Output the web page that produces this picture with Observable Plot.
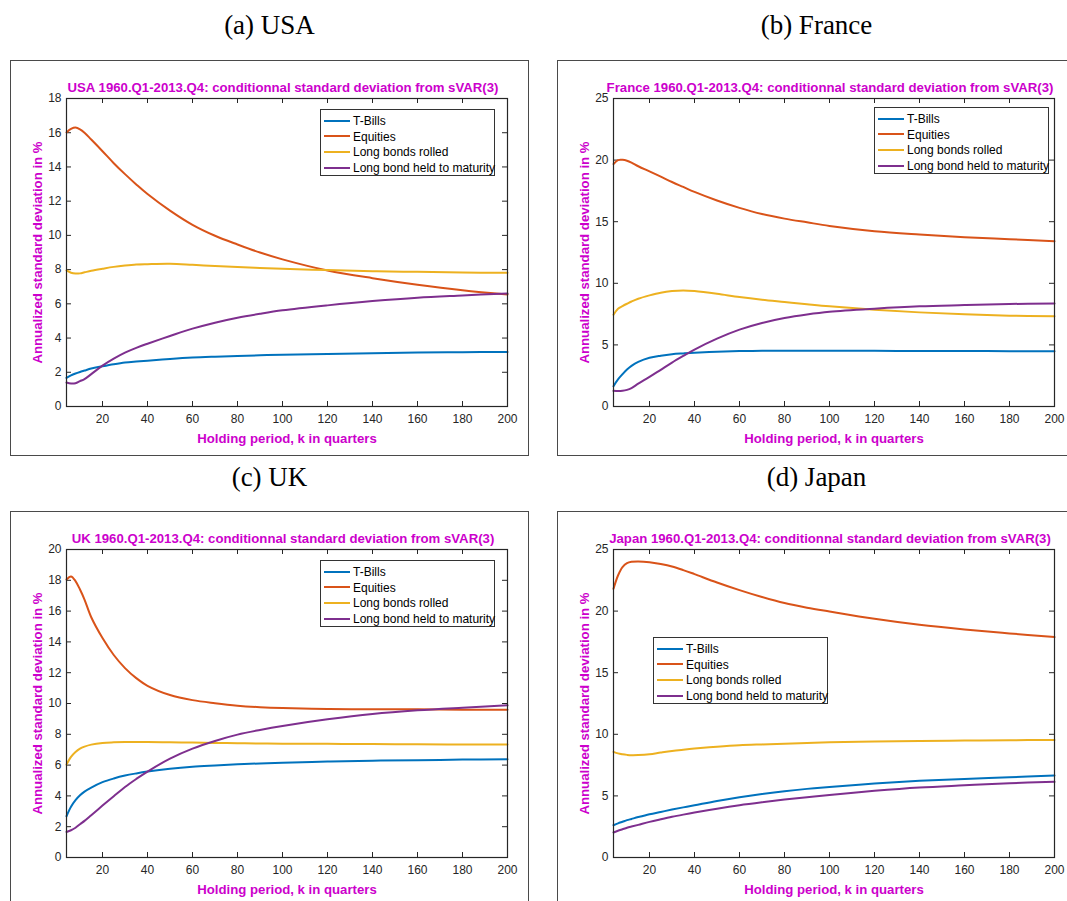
<!DOCTYPE html>
<html>
<head>
<meta charset="utf-8">
<script src="https://cdn.jsdelivr.net/npm/d3@7"></script>
<script src="https://cdn.jsdelivr.net/npm/@observablehq/plot@0.6"></script>
<style>
  html, body { margin: 0; padding: 0; background: #fff; }
  #fig { position: relative; width: 1067px; height: 901px; overflow: hidden; background: #fff; }
  .cap { position: absolute; width: 519px; text-align: center; font-family: "Liberation Serif", serif; font-size: 27px; line-height: 30px; color: #000; }
  .panel { position: absolute; width: 519px; height: 396px; }
  .panel svg { position: absolute; left: 0; top: 0; }
  .border { position: absolute; left: 0; top: 0; width: 519px; height: 396px; box-sizing: border-box; border: 1.5px solid #4a4a4a; pointer-events: none; }
  .legend { position: absolute; width: 175px; height: 67px; box-sizing: border-box; border: 1px solid #333; background: #fff; font-family: "Liberation Sans", Arial, sans-serif; font-size: 12px; color: #000; }
  .row { position: absolute; left: 3px; height: 16px; line-height: 16px; white-space: nowrap; }
  .sw { display: inline-block; width: 26px; height: 2px; vertical-align: middle; margin-right: 3px; position: relative; top: -1px; }
</style>
</head>
<body>
<div id="fig"></div>
<script>
// ---------- data ----------
const seriesNames = ["T-Bills", "Equities", "Long bonds rolled", "Long bond held to maturity"];
const seriesColors = ["#0072BD", "#D95319", "#EDB120", "#7E2F8E"];

// holding periods (quarters) at which values were read
const K = [4, 6, 8, 10, 12, 15, 20, 25, 30, 35, 40, 50, 60, 70, 80, 90, 100, 120, 140, 160, 180, 200];
const xTicks = [20, 40, 60, 80, 100, 120, 140, 160, 180, 200];

// USA
const usaTBills   = [1.67, 1.82, 1.93, 2.02, 2.10, 2.22, 2.35, 2.47, 2.57, 2.63, 2.68, 2.78, 2.86, 2.91, 2.95, 2.99, 3.03, 3.07, 3.11, 3.15, 3.17, 3.19];
const usaEquities = [16.02, 16.22, 16.30, 16.20, 16.00, 15.60, 14.92, 14.22, 13.58, 12.98, 12.42, 11.45, 10.62, 9.98, 9.47, 9.00, 8.60, 7.95, 7.50, 7.12, 6.80, 6.55];
const usaRolled   = [7.95, 7.82, 7.77, 7.78, 7.84, 7.93, 8.05, 8.16, 8.24, 8.30, 8.32, 8.34, 8.28, 8.21, 8.15, 8.10, 8.05, 7.97, 7.91, 7.87, 7.83, 7.81];
const usaHeld     = [1.40, 1.34, 1.36, 1.48, 1.60, 1.89, 2.39, 2.80, 3.15, 3.43, 3.67, 4.12, 4.55, 4.90, 5.19, 5.42, 5.62, 5.91, 6.16, 6.36, 6.49, 6.61];
const usaYTicks   = [0, 2, 4, 6, 8, 10, 12, 14, 16, 18];

// France
const fraTBills   = [1.65, 2.20, 2.62, 3.00, 3.30, 3.62, 3.95, 4.12, 4.24, 4.31, 4.37, 4.45, 4.50, 4.52, 4.53, 4.53, 4.53, 4.52, 4.51, 4.50, 4.49, 4.48];
const fraEquities = [19.68, 20.00, 20.02, 19.95, 19.80, 19.50, 19.08, 18.66, 18.22, 17.82, 17.42, 16.72, 16.12, 15.62, 15.25, 14.95, 14.66, 14.23, 13.96, 13.74, 13.58, 13.42];
const fraRolled   = [7.45, 7.94, 8.15, 8.34, 8.52, 8.75, 9.02, 9.24, 9.37, 9.42, 9.37, 9.15, 8.88, 8.66, 8.48, 8.30, 8.13, 7.86, 7.64, 7.48, 7.37, 7.32];
const fraHeld     = [1.27, 1.25, 1.27, 1.35, 1.50, 1.85, 2.40, 2.98, 3.56, 4.10, 4.62, 5.51, 6.24, 6.78, 7.18, 7.47, 7.69, 7.94, 8.13, 8.23, 8.32, 8.37];
const fraYTicks   = [0, 5, 10, 15, 20, 25];

// UK
const ukTBills    = [2.68, 3.29, 3.72, 4.04, 4.28, 4.54, 4.89, 5.13, 5.32, 5.46, 5.58, 5.77, 5.90, 5.98, 6.05, 6.11, 6.16, 6.23, 6.29, 6.31, 6.36, 6.38];
const ukEquities  = [18.05, 18.25, 17.95, 17.40, 16.75, 15.60, 14.25, 13.15, 12.30, 11.65, 11.15, 10.55, 10.22, 10.02, 9.86, 9.76, 9.70, 9.64, 9.62, 9.62, 9.60, 9.60];
const ukRolled    = [6.03, 6.53, 6.85, 7.07, 7.20, 7.33, 7.44, 7.48, 7.50, 7.50, 7.50, 7.48, 7.46, 7.44, 7.42, 7.40, 7.39, 7.38, 7.37, 7.35, 7.34, 7.33];
const ukHeld      = [1.66, 1.77, 1.93, 2.16, 2.38, 2.75, 3.37, 3.98, 4.58, 5.10, 5.58, 6.42, 7.07, 7.57, 7.98, 8.28, 8.54, 8.97, 9.32, 9.56, 9.73, 9.88];
const ukYTicks    = [0, 2, 4, 6, 8, 10, 12, 14, 16, 18, 20];

// Japan
const jpnTBills   = [2.62, 2.77, 2.90, 3.03, 3.13, 3.28, 3.51, 3.70, 3.89, 4.07, 4.24, 4.59, 4.89, 5.15, 5.38, 5.57, 5.73, 6.00, 6.22, 6.38, 6.51, 6.65];
const jpnEquities = [21.81, 22.89, 23.57, 23.89, 24.00, 24.03, 23.97, 23.82, 23.62, 23.33, 23.00, 22.32, 21.70, 21.14, 20.65, 20.28, 19.97, 19.38, 18.89, 18.51, 18.19, 17.89];
const jpnRolled   = [8.57, 8.45, 8.38, 8.33, 8.30, 8.31, 8.38, 8.52, 8.65, 8.75, 8.84, 8.99, 9.11, 9.18, 9.24, 9.30, 9.35, 9.41, 9.46, 9.49, 9.52, 9.54];
const jpnHeld     = [2.03, 2.17, 2.29, 2.41, 2.51, 2.65, 2.89, 3.10, 3.30, 3.48, 3.65, 3.96, 4.24, 4.48, 4.70, 4.90, 5.08, 5.41, 5.68, 5.86, 6.03, 6.14];
const jpnYTicks   = [0, 5, 10, 15, 20, 25];

const captions = ["(a) USA", "(b) France", "(c) UK", "(d) Japan"];
const titles = [
  "USA 1960.Q1-2013.Q4: conditionnal standard deviation from sVAR(3)",
  "France 1960.Q1-2013.Q4: conditionnal standard deviation from sVAR(3)",
  "UK 1960.Q1-2013.Q4: conditionnal standard deviation from sVAR(3)",
  "Japan 1960.Q1-2013.Q4: conditionnal standard deviation from sVAR(3)"
];
const xLabel = "Holding period, k in quarters";
const yLabel = "Annualized standard deviation in %";

// ---------- layout ----------
const W = 519, H = 396;
const mL = 56, mR = 22, mT = 38, mB = 50;
const innerW = W - mL - mR, innerH = H - mT - mB;
const TICK = 5;
const labelColor = "#cc00cc";
const ink = "#262626";

const panels = [
  {series: [usaTBills, usaEquities, usaRolled, usaHeld], yTicks: usaYTicks, left: 10,  top: 60,  capTop: 10,  legend: [310, 49]},
  {series: [fraTBills, fraEquities, fraRolled, fraHeld], yTicks: fraYTicks, left: 557, top: 60,  capTop: 10,  legend: [317, 47]},
  {series: [ukTBills, ukEquities, ukRolled, ukHeld],     yTicks: ukYTicks,  left: 10,  top: 511, capTop: 462, legend: [310, 49]},
  {series: [jpnTBills, jpnEquities, jpnRolled, jpnHeld], yTicks: jpnYTicks, left: 557, top: 511, capTop: 462, legend: [96, 126]}
];

const fig = document.getElementById("fig");

panels.forEach((p, idx) => {
  const cap = document.createElement("div");
  cap.className = "cap";
  cap.style.left = p.left + "px";
  cap.style.top = p.capTop + "px";
  cap.textContent = captions[idx];
  fig.appendChild(cap);

  const rows = [];
  p.series.forEach((vals, si) => {
    vals.forEach((v, i) => rows.push({k: K[i], v, s: seriesNames[si]}));
  });
  const yMax = p.yTicks[p.yTicks.length - 1];

  const chart = Plot.plot({
    width: W, height: H,
    marginLeft: mL, marginRight: mR, marginTop: mT, marginBottom: mB,
    style: {fontFamily: "'Liberation Sans', Arial, sans-serif", fontSize: "12px", color: ink, background: "transparent", overflow: "visible"},
    x: {domain: [4, 200]},
    y: {domain: [0, yMax]},
    color: {domain: seriesNames, range: seriesColors},
    marks: [
      Plot.axisX({ticks: xTicks, tickSize: 0, tickPadding: 8, label: null, fill: ink, fontSize: 12}),
      Plot.axisY({ticks: p.yTicks, tickSize: 0, tickPadding: 5, label: null, fill: ink, fontSize: 12}),
      Plot.tickX(xTicks, {x: d => d, insetTop: innerH - TICK, stroke: ink, strokeWidth: 1}),
      Plot.tickX(xTicks, {x: d => d, insetBottom: innerH - TICK, stroke: ink, strokeWidth: 1}),
      Plot.tickY(p.yTicks, {y: d => d, insetRight: innerW - TICK, stroke: ink, strokeWidth: 1}),
      Plot.tickY(p.yTicks, {y: d => d, insetLeft: innerW - TICK, stroke: ink, strokeWidth: 1}),
      Plot.line(rows, {x: "k", y: "v", z: "s", stroke: "s", strokeWidth: 2, curve: "catmull-rom"}),
      Plot.frame({stroke: ink, strokeWidth: 1.2}),
      Plot.text([titles[idx]], {frameAnchor: "top", dy: -11, dx: -4, lineAnchor: "middle", textAnchor: "middle", fill: labelColor, fontWeight: "bold", fontSize: 13.2}),
      Plot.text([xLabel], {frameAnchor: "bottom", dy: 32, lineAnchor: "middle", textAnchor: "middle", fill: labelColor, fontWeight: "bold", fontSize: 13.2}),
      Plot.text([yLabel], {frameAnchor: "left", dx: -29, rotate: -90, lineAnchor: "middle", textAnchor: "middle", fill: labelColor, fontWeight: "bold", fontSize: 13.2})
    ]
  });

  const panel = document.createElement("div");
  panel.className = "panel";
  panel.style.left = p.left + "px";
  panel.style.top = p.top + "px";
  panel.appendChild(chart);

  const lg = document.createElement("div");
  lg.className = "legend";
  lg.style.left = p.legend[0] + "px";
  lg.style.top = p.legend[1] + "px";
  seriesNames.forEach((name, i) => {
    const row = document.createElement("div");
    row.className = "row";
    row.style.top = (3 + i * 15.6) + "px";
    const sw = document.createElement("span");
    sw.className = "sw";
    sw.style.background = seriesColors[i];
    const lab = document.createElement("span");
    lab.textContent = name;
    row.appendChild(sw);
    row.appendChild(lab);
    lg.appendChild(row);
  });
  panel.appendChild(lg);

  const border = document.createElement("div");
  border.className = "border";
  panel.appendChild(border);

  fig.appendChild(panel);
});
</script>
</body>
</html>
